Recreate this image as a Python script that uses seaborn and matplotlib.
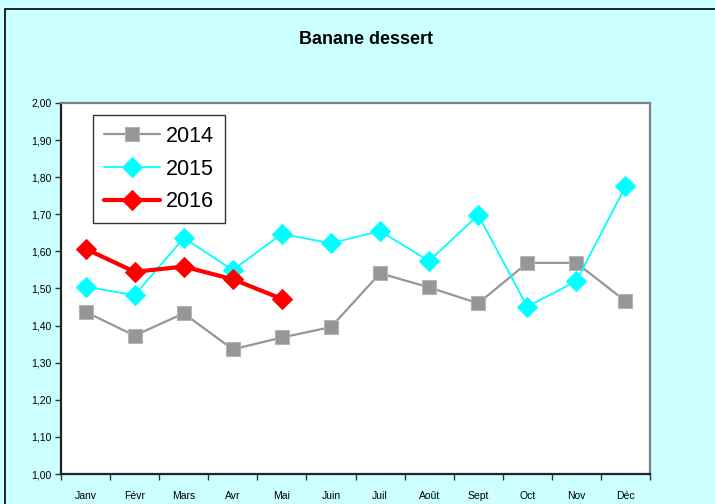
import matplotlib
matplotlib.use("Agg")
import matplotlib.pyplot as plt
import seaborn as sns
import pandas as pd
from matplotlib.patches import Rectangle
from matplotlib.ticker import FixedLocator, FuncFormatter

months = ["Janv", "Févr", "Mars", "Avr", "Mai", "Juin", "Juil", "Août", "Sept", "Oct", "Nov", "Déc"]
v2014 = [1.437, 1.373, 1.433, 1.336, 1.368, 1.396, 1.541, 1.503, 1.460, 1.569, 1.569, 1.466]
v2015 = [1.505, 1.482, 1.636, 1.550, 1.647, 1.622, 1.655, 1.574, 1.698, 1.451, 1.520, 1.775]
v2016 = [1.607, 1.545, 1.559, 1.525, 1.472]

sns.set_theme(style="white")
plt.rcParams['font.family'] = ['Liberation Sans', 'DejaVu Sans']
plt.rcParams['text.color'] = 'black'
plt.rcParams['xtick.color'] = 'black'
plt.rcParams['ytick.color'] = 'black'

bg = "#CCFFFF"
fig = plt.figure(figsize=(7.15, 5.04), dpi=100)
fig.patch.set_facecolor(bg)
fig.patches.append(Rectangle((5 / 715, -0.05), 1.2, (504 - 9) / 504 + 0.05, transform=fig.transFigure,
                             fill=False, edgecolor="black", linewidth=1.2))
ax = fig.add_axes([61 / 715, 30 / 504, 589 / 715, 371 / 504])
ax.set_facecolor("white")

x14 = list(range(len(v2014)))
x15 = list(range(len(v2015)))
x16 = list(range(len(v2016)))

sns.lineplot(x=x14, y=v2014, ax=ax, color="#969696", linewidth=1.6, marker="s", markersize=10,
             markeredgecolor="#B4B4B4", markeredgewidth=0.8, label="2014")
sns.lineplot(x=x15, y=v2015, ax=ax, color="#00FFFF", linewidth=1.3, marker="D", markersize=10.5,
             markeredgecolor="#00FFFF", label="2015")
sns.lineplot(x=x16, y=v2016, ax=ax, color="#FF0000", linewidth=3.0, marker="D", markersize=10.5,
             markeredgecolor="#FF0000", label="2016")

ax.set_xlim(-0.5, 11.5)
ax.set_ylim(1.0, 2.0)
ax.set_xticks(range(12))
ax.set_xticklabels(months, fontsize=7.5)
ax.xaxis.set_minor_locator(FixedLocator([i - 0.5 for i in range(13)]))
ax.tick_params(axis="x", which="major", length=0, pad=12)
ax.tick_params(axis="x", which="minor", length=4, width=1, color="#333333", direction="out", bottom=True)
yt = [1.0 + 0.1 * i for i in range(11)]
ax.set_yticks(yt)
ax.yaxis.set_major_formatter(FuncFormatter(lambda v, p: f"{v:.2f}".replace(".", ",")))
ax.tick_params(axis="y", which="major", length=4, width=1, color="#333333", direction="out", left=True,
               labelsize=7.5, pad=3)
ax.set_xlabel("")
ax.set_ylabel("")

for s in ["left", "bottom"]:
    ax.spines[s].set_color("#222222")
    ax.spines[s].set_linewidth(1.6)
for s in ["top", "right"]:
    ax.spines[s].set_color("#808080")
    ax.spines[s].set_linewidth(1.6)

leg = ax.legend(loc="upper left", bbox_to_anchor=(32 / 589, 1 - 12 / 371), fontsize=15.5,
                frameon=True, fancybox=False, edgecolor="black", handlelength=2.6,
                borderpad=0.5, labelspacing=0.55, handletextpad=0.3, borderaxespad=0)
leg.get_frame().set_linewidth(1.0)
for t in leg.get_texts():
    t.set_color("black")

fig.text(366 / 715, 1 - 40 / 504, "Banane dessert", ha="center", va="center", fontsize=13,
         fontweight="bold", color="black")

fig.savefig("out.png", dpi=100, facecolor=bg)
